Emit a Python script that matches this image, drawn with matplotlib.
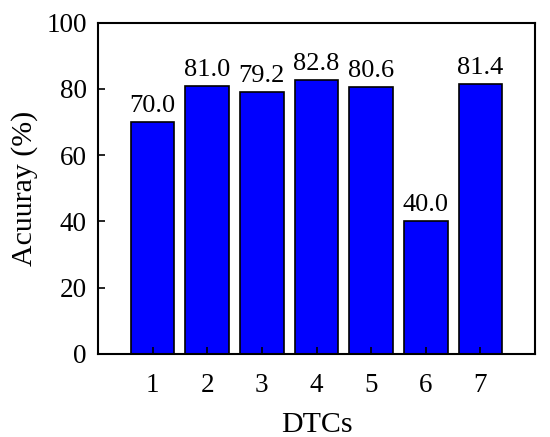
import matplotlib
matplotlib.use("Agg")
import matplotlib.pyplot as plt

dtcs = [1, 2, 3, 4, 5, 6, 7]
accuracy = [70.0, 81.0, 79.2, 82.8, 80.6, 40.0, 81.4]
labels = ["70.0", "81.0", "79.2", "82.8", "80.6", "40.0", "81.4"]

plt.rcParams["font.family"] = ["Liberation Serif", "DejaVu Serif"]

fig = plt.figure(figsize=(5.5, 4.37), dpi=100)
ax = fig.add_axes([98 / 550, 1 - 353.7 / 437, (535 - 98) / 550, (353.7 - 22.7) / 437])

bars = ax.bar(dtcs, accuracy, width=0.8, color="#0000ff", edgecolor="black", linewidth=1.2)
for b, t in zip(bars, labels):
    ax.text(b.get_x() + b.get_width() / 2, b.get_height() + 1.5, t,
            ha="center", va="bottom", fontsize=19)

ax.set_xlim(0, 8)
ax.set_ylim(0, 100)
ax.set_xticks(dtcs)
ax.set_yticks([0, 20, 40, 60, 80, 100])
ax.tick_params(direction="in", labelsize=19.5, length=5, width=1.2)
ax.tick_params(axis="x", pad=14)
ax.tick_params(axis="y", pad=8)
for s in ax.spines.values():
    s.set_linewidth(1.5)

ax.set_xlabel("DTCs", fontsize=21.5, labelpad=10)
ax.set_ylabel("Acuuray (%)", fontsize=21.5, labelpad=6)

fig.savefig("out.png", dpi=100)
